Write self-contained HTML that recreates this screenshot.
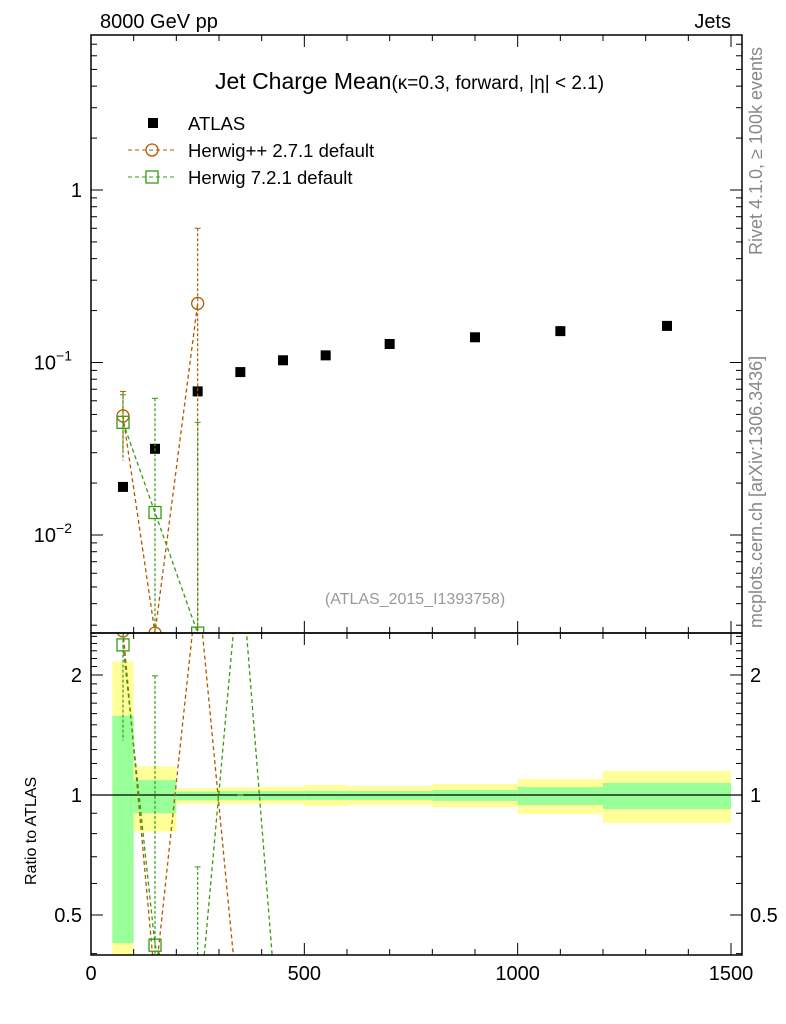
<!DOCTYPE html>
<html><head><meta charset="utf-8"><style>
html,body{margin:0;background:#fff;overflow:hidden;width:786px;height:1024px;}
svg{display:block;font-family:"Liberation Sans","DejaVu Sans",sans-serif;}
</style></head><body>
<svg id="chart" width="786" height="1024" viewBox="0 0 786 1024" xmlns="http://www.w3.org/2000/svg">
<defs>
<clipPath id="cm"><rect x="91" y="35" width="651" height="598"/></clipPath>
<clipPath id="cr"><rect x="91" y="633" width="651" height="322"/></clipPath>
</defs>
<text x="100" y="28" font-size="20">8000 GeV pp</text>
<text x="731" y="28" font-size="20" text-anchor="end">Jets</text>
<text x="215" y="89" font-size="23">Jet Charge Mean<tspan font-size="19">(κ=0.3, forward, |η| &lt; 2.1)</tspan></text>
<text x="415" y="604" font-size="16" fill="#999" text-anchor="middle">(ATLAS_2015_I1393758)</text>
<text transform="translate(762,255) rotate(-90)" font-size="18" fill="#888">Rivet 4.1.0, ≥ 100k events</text>
<text transform="translate(762,628) rotate(-90)" font-size="18" fill="#888">mcplots.cern.ch [arXiv:1306.3436]</text>
<text transform="translate(36,885) rotate(-90)" font-size="16">Ratio to ATLAS</text>
<g id="bands" clip-path="url(#cr)"></g>
<g id="main" clip-path="url(#cm)"></g>
<g id="ratio" clip-path="url(#cr)"></g>
<g id="axes"></g>
<g>
<rect x="148" y="118" width="10" height="10" fill="#000"/>
<text x="188" y="130" font-size="18.5">ATLAS</text>
<line x1="128" y1="150" x2="176" y2="150" stroke="#b35900" stroke-dasharray="4,3"/>
<circle cx="152" cy="150" r="6" fill="none" stroke="#b35900" stroke-width="1.3"/>
<text x="188" y="157" font-size="18.5">Herwig++ 2.7.1 default</text>
<line x1="128" y1="177" x2="176" y2="177" stroke="#3a9a10" stroke-dasharray="4,3"/>
<rect x="146" y="171" width="12" height="12" fill="none" stroke="#3a9a10" stroke-width="1.3"/>
<text x="188" y="184" font-size="18.5">Herwig 7.2.1 default</text>
</g>
</svg>
<script>
const xCenters=[75,150,250,350,450,550,700,900,1100,1350];
const binEdges=[50,100,200,300,400,500,600,800,1000,1200,1500];
const atlasValues=[0.019,0.0316,0.068,0.088,0.103,0.110,0.128,0.140,0.152,0.163];
const hppX=[75,150,250];
const hppValues=[0.049,0.0027,0.22];
const hppErrLo=[0.03,0.0001,0.0001];
const hppErrHi=[0.068,0.0027,0.6];
const h7X=[75,150,250];
const h7Values=[0.045,0.0135,0.0027];
const h7ErrLo=[0.027,0.0001,0.0001];
const h7ErrHi=[0.065,0.062,0.045];
const bandYelHi=[2.16,1.18,1.04,1.045,1.05,1.059,1.053,1.066,1.097,1.149];
const bandYelLo=[0.30,0.81,0.95,0.95,0.95,0.938,0.944,0.933,0.896,0.851];
const bandGrnHi=[1.58,1.09,1.02,1.022,1.022,1.023,1.023,1.029,1.047,1.072];
const bandGrnLo=[0.425,0.90,0.97,0.972,0.972,0.972,0.972,0.966,0.944,0.922];
const hppRatioX=[75,150,250,350];
const hppRatio=[2.58,0.34,3.4,0.26];
const h7RatioX=[75,150,250,350,450];
const h7Ratio=[2.38,0.42,0.26,4.0,0.18];
const h7RatioErrLo=[1.37,0.3,0.1,1,0.1];
const h7RatioErrHi=[2.6,1.99,0.66,1,0.1];
const xTicks=[0,500,1000,1500];

const NS="http://www.w3.org/2000/svg";
const X=v=>91+v*0.42667;
const Ym=v=>190-172.5*Math.log10(v);
const Yr=v=>795-120*Math.log2(v);
function mk(p,tag,a){const e=document.createElementNS(NS,tag);for(const k in a)e.setAttribute(k,a[k]);p.appendChild(e);return e;}
const bands=document.getElementById('bands'),main=document.getElementById('main'),ratio=document.getElementById('ratio'),axes=document.getElementById('axes');

for(let i=0;i<bandYelHi.length;i++){
 const x1=X(binEdges[i]),x2=X(binEdges[i+1]);
 const y=mk(bands,'rect',{x:x1,y:Yr(bandYelHi[i]),width:x2-x1,height:Yr(bandYelLo[i])-Yr(bandYelHi[i]),fill:'#ffff99'});
 
 
 const g=mk(bands,'rect',{x:x1,y:Yr(bandGrnHi[i]),width:x2-x1,height:Yr(bandGrnLo[i])-Yr(bandGrnHi[i]),fill:'#99ff99'});
 
 
}
const ref=mk(bands,'line',{x1:91,x2:742,y1:Yr(1),y2:Yr(1),stroke:'#000','stroke-width':1.2});



atlasValues.forEach((v,i)=>{
 const r=mk(main,'rect',{x:X(xCenters[i])-5,y:Ym(v)-5,width:10,height:10,fill:'#000'});
 
 
});
function series(g,xs,vs,lo,hi,col,shape,Y,name){
 if(lo)xs.forEach((x,i)=>{
  const e=mk(g,'line',{x1:X(x),x2:X(x),y1:Y(hi[i]),y2:Y(lo[i]),stroke:col,'stroke-dasharray':'3,2','stroke-width':1.2});
  
  
  const c=mk(g,'line',{x1:X(x)-3,x2:X(x)+3,y1:Y(hi[i]),y2:Y(hi[i]),stroke:col});
  
  
 });
 const p=mk(g,'polyline',{points:xs.map((x,i)=>X(x)+','+Y(vs[i])).join(' '),fill:'none',stroke:col,'stroke-dasharray':'4,3','stroke-width':1.3});
 
 
 xs.forEach((x,i)=>{
  let m;
  if(shape==='c')m=mk(g,'circle',{cx:X(x),cy:Y(vs[i]),r:6,fill:'none',stroke:col,'stroke-width':1.3});
  else m=mk(g,'rect',{x:X(x)-6,y:Y(vs[i])-6,width:12,height:12,fill:'none',stroke:col,'stroke-width':1.3});
  
  
 });
}
series(main,hppX,hppValues,hppErrLo,hppErrHi,'#b35900','c',Ym,'herwigpp');
series(main,h7X,h7Values,h7ErrLo,h7ErrHi,'#3a9a10','s',Ym,'herwig7');
series(ratio,hppRatioX,hppRatio,null,null,'#b35900','c',Yr,'herwigpp-ratio');
series(ratio,h7RatioX,h7Ratio,h7RatioErrLo,h7RatioErrHi,'#3a9a10','s',Yr,'herwig7-ratio');

[[35,633],[633,955]].forEach(([t,b])=>{
 const f=mk(axes,'rect',{x:91,y:t,width:651,height:b-t,fill:'none',stroke:'#000','stroke-width':1.5});
 
 
});
function tk(x1,y1,x2,y2){mk(axes,'line',{x1,y1,x2,y2,stroke:'#000','stroke-width':1});}
for(let v=0;v<=1500;v+=100){
 const big=v%500===0,L=big?12:6,x=X(v);
 [35,633].forEach(t=>tk(x,t,x,t+L));
 [633,955].forEach(b=>tk(x,b,x,b-L));
}
xTicks.forEach(v=>{
 const t=mk(axes,'text',{x:X(v),y:980,'font-size':20,'text-anchor':'middle'});
 t.textContent=v;
 
 
});
for(let d=-3;d<=0;d++)for(let k=1;k<10;k++){
 const v=k*Math.pow(10,d),y=Ym(v);
 if(y<35||y>633)continue;
 const L=k===1?12:6;tk(91,y,91+L,y);tk(742,y,742-L,y);
}
const ml=[[1,'1',''],[0.1,'10','−1'],[0.01,'10','−2']];
ml.forEach(([v,b,e])=>{
 const t=mk(axes,'text',{x:e?72:82,y:Ym(v)+7,'font-size':20,'text-anchor':'end'});
 t.textContent=b;
 if(e){const s=mk(t,'tspan',{dy:-9,'font-size':14});s.textContent=e;}
 
 
});
const rt=[0.4,0.5,0.6,0.7,0.8,0.9,1,1.1,1.2,1.3,1.4,1.5,1.6,1.7,1.8,1.9,2,2.1,2.2,2.3,2.4,2.5];
rt.forEach(v=>{const y=Yr(v);const big=(v===0.5||v===1||v===2);const L=big?12:6;tk(91,y,91+L,y);tk(742,y,742-L,y);});
[[2,'2'],[1,'1'],[0.5,'0.5']].forEach(([v,s])=>{
 const a=mk(axes,'text',{x:82,y:Yr(v)+7,'font-size':20,'text-anchor':'end'});a.textContent=s;
 
 
 const b=mk(axes,'text',{x:750,y:Yr(v)+7,'font-size':20});b.textContent=s;
 
 
});
</script>
</body></html>
